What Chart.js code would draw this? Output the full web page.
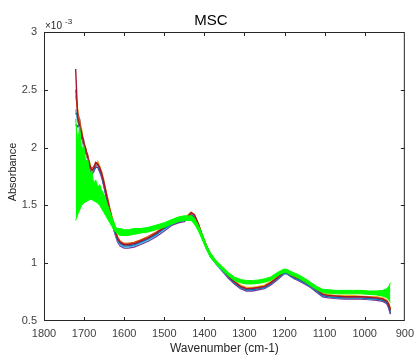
<!DOCTYPE html>
<html>
<head>
<meta charset="utf-8">
<script src="https://cdn.jsdelivr.net/npm/chart.js@4.4.0/dist/chart.umd.min.js"></script>
<style>
html, body { margin: 0; padding: 0; background: #fff; }
#wrap { width: 420px; height: 355px; position: relative; }
</style>
</head>
<body>
<div id="wrap"><canvas id="msc"></canvas></div>
<script>
// wavenumber grid (cm-1), values in units of 1e-3
const wavenumbers = [1721,1716,1711,1706,1701,1696,1691,1686,1681,1676,1671,1666,1661,1656,1651,1646,1641,1636,1631,1626,
  1621,1616,1610,1600,1590,1575,1560,1540,1520,1500,1480,1465,1450,1440,1433,1425,1415,1405,1395,1385,
  1370,1355,1340,1325,1310,1295,1280,1265,1250,1235,1220,1210,1200,1193,1185,1175,1165,1150,1135,1120,
  1105,1090,1070,1050,1030,1010,990,970,955,945,940,936];

const blueSpec = [2.30,2.28,2.15,2.14,2.00,1.99,1.89,1.86,1.78,1.81,1.84,1.87,1.80,1.76,1.68,1.60,1.52,1.44,1.37,1.30,
  1.25,1.20,1.17,1.15,1.15,1.16,1.18,1.21,1.25,1.30,1.34,1.36,1.37,1.40,1.42,1.40,1.33,1.23,1.14,1.07,
  1.00,0.94,0.88,0.83,0.79,0.77,0.77,0.78,0.79,0.82,0.86,0.89,0.915,0.91,0.89,0.87,0.86,0.83,0.80,0.76,
  0.72,0.71,0.705,0.70,0.70,0.70,0.695,0.69,0.68,0.66,0.62,0.57];
const orangeSpec = [2.50,2.30,2.24,2.13,2.06,1.97,1.94,1.84,1.82,1.83,1.87,1.85,1.83,1.78,1.71,1.63,1.55,1.47,1.40,1.33,
  1.27,1.22,1.19,1.17,1.17,1.18,1.20,1.23,1.27,1.31,1.35,1.37,1.38,1.41,1.43,1.42,1.34,1.24,1.15,1.08,
  1.01,0.95,0.89,0.84,0.80,0.78,0.785,0.79,0.80,0.83,0.87,0.90,0.925,0.92,0.90,0.88,0.87,0.84,0.81,0.77,
  0.735,0.72,0.715,0.71,0.71,0.71,0.705,0.70,0.69,0.675,0.65,0.60];
const yellowSpec = [2.45,2.33,2.18,2.16,2.02,2.00,1.90,1.87,1.79,1.84,1.85,1.88,1.84,1.79,1.72,1.64,1.56,1.48,1.41,1.34,
  1.27,1.22,1.19,1.17,1.17,1.18,1.20,1.23,1.27,1.32,1.36,1.38,1.39,1.42,1.44,1.42,1.34,1.24,1.15,1.08,
  1.01,0.95,0.90,0.85,0.81,0.79,0.79,0.80,0.81,0.84,0.88,0.91,0.93,0.925,0.91,0.89,0.88,0.85,0.82,0.78,
  0.74,0.73,0.72,0.72,0.72,0.715,0.71,0.71,0.70,0.68,0.65,0.61];
const purpleSpec = [2.20,2.18,2.22,2.08,2.03,1.95,1.91,1.82,1.77,1.79,1.83,1.83,1.79,1.74,1.67,1.59,1.51,1.43,1.36,1.29,
  1.23,1.18,1.15,1.13,1.13,1.14,1.16,1.19,1.23,1.28,1.33,1.35,1.36,1.39,1.42,1.40,1.32,1.22,1.13,1.06,
  0.99,0.93,0.87,0.82,0.78,0.76,0.76,0.77,0.78,0.81,0.85,0.88,0.91,0.905,0.885,0.865,0.85,0.82,0.79,0.75,
  0.71,0.70,0.695,0.69,0.69,0.69,0.685,0.68,0.67,0.65,0.61,0.56];
const cyanSpec = [2.33,2.22,2.24,2.10,2.07,1.97,1.93,1.86,1.81,1.80,1.86,1.85,1.81,1.76,1.69,1.61,1.53,1.45,1.38,1.31,
  1.24,1.19,1.16,1.14,1.14,1.15,1.17,1.20,1.24,1.29,1.34,1.36,1.37,1.40,1.42,1.40,1.32,1.22,1.13,1.06,
  0.99,0.93,0.88,0.83,0.79,0.77,0.77,0.78,0.79,0.82,0.86,0.89,0.91,0.91,0.89,0.87,0.86,0.83,0.80,0.76,
  0.72,0.71,0.70,0.70,0.70,0.70,0.69,0.69,0.68,0.66,0.63,0.58];
const redSpec = [2.68,2.26,2.19,2.12,2.04,1.99,1.92,1.85,1.80,1.82,1.87,1.86,1.82,1.77,1.70,1.62,1.54,1.46,1.39,1.32,
  1.26,1.21,1.18,1.16,1.16,1.17,1.19,1.22,1.26,1.31,1.35,1.37,1.38,1.41,1.44,1.42,1.34,1.24,1.15,1.08,
  1.00,0.94,0.89,0.84,0.80,0.78,0.78,0.79,0.80,0.83,0.87,0.90,0.925,0.92,0.90,0.88,0.87,0.84,0.81,0.77,
  0.73,0.72,0.715,0.71,0.71,0.71,0.705,0.70,0.69,0.67,0.64,0.59];

// envelope of the green group of spectra
const greenUpper = [2.25,2.05,2.18,1.98,2.02,1.88,1.90,1.78,1.80,1.69,1.72,1.66,1.68,1.63,1.60,1.55,1.50,1.45,1.40,1.36,
  1.31,1.30,1.30,1.29,1.29,1.30,1.30,1.31,1.33,1.35,1.38,1.40,1.41,1.41,1.41,1.39,1.33,1.25,1.16,1.09,
  1.02,0.97,0.92,0.88,0.86,0.85,0.85,0.855,0.865,0.88,0.915,0.935,0.95,0.945,0.93,0.915,0.90,0.87,0.835,0.80,
  0.775,0.77,0.765,0.765,0.765,0.765,0.76,0.76,0.765,0.78,0.80,0.83];
const greenLower = [1.37,1.42,1.46,1.50,1.52,1.53,1.54,1.55,1.55,1.54,1.53,1.52,1.50,1.47,1.44,1.41,1.38,1.35,1.32,1.29,
  1.27,1.25,1.24,1.24,1.24,1.25,1.26,1.27,1.29,1.31,1.34,1.36,1.37,1.37,1.37,1.34,1.28,1.20,1.12,1.05,
  0.99,0.94,0.89,0.85,0.83,0.82,0.82,0.825,0.835,0.85,0.885,0.905,0.92,0.915,0.90,0.885,0.87,0.84,0.805,0.77,
  0.745,0.74,0.735,0.735,0.735,0.735,0.73,0.725,0.715,0.70,0.68,0.66];

const xTicks = [1800,1700,1600,1500,1400,1300,1200,1100,1000,900];
const yTicks = [0.5,1,1.5,2,2.5,3];

const FONT = '"Liberation Sans", Arial, sans-serif';
const pts = vals => vals.map((v, i) => ({ x: wavenumbers[i], y: v }));

const spectrum = (vals, color) => ({
  data: pts(vals), borderColor: color, borderWidth: 1.4, pointRadius: 0, fill: false, order: 1
});

const framePlugin = {
  id: 'frame',
  afterDraw(chart) {
    const { ctx, chartArea: a, scales: { x, y } } = chart;
    ctx.save();
    ctx.strokeStyle = '#262626';
    ctx.lineWidth = 1;
    ctx.strokeRect(a.left + 0.5, a.top + 0.5, a.right - a.left - 1, a.bottom - a.top - 1);
    ctx.beginPath();
    x.ticks.forEach(t => {
      const px = Math.round(x.getPixelForValue(t.value)) + 0.5;
      if (px <= a.left + 1 || px >= a.right - 1) return;
      ctx.moveTo(px, a.bottom); ctx.lineTo(px, a.bottom - 4);
      ctx.moveTo(px, a.top); ctx.lineTo(px, a.top + 4);
    });
    y.ticks.forEach(t => {
      const py = Math.round(y.getPixelForValue(t.value)) + 0.5;
      if (py <= a.top + 1 || py >= a.bottom - 1) return;
      ctx.moveTo(a.left, py); ctx.lineTo(a.left + 4, py);
      ctx.moveTo(a.right, py); ctx.lineTo(a.right - 4, py);
    });
    ctx.stroke();

    // title, exponent and axis titles
    ctx.fillStyle = '#000';
    ctx.textAlign = 'center';
    ctx.textBaseline = 'middle';
    ctx.font = '15px ' + FONT;
    ctx.fillText('MSC', 211, 21);

    ctx.fillStyle = '#262626';
    ctx.textAlign = 'left';
    ctx.textBaseline = 'alphabetic';
    ctx.font = '10px ' + FONT;
    ctx.fillText('\u00d710', 45, 29);
    ctx.font = '8px ' + FONT;
    ctx.fillText('-3', 65, 24);

    ctx.textAlign = 'center';
    ctx.textBaseline = 'middle';
    ctx.font = '12px ' + FONT;
    ctx.fillText('Wavenumber (cm-1)', (a.left + a.right) / 2, 349);
    ctx.save();
    ctx.translate(13, 172);
    ctx.rotate(-Math.PI / 2);
    ctx.font = '11px ' + FONT;
    ctx.fillText('Absorbance', 0, 0);
    ctx.restore();
    ctx.restore();
  }
};

new Chart(document.getElementById('msc'), {
  type: 'line',
  data: {
    datasets: [
      { data: pts(greenUpper), borderColor: '#00ff00', backgroundColor: '#00ff00', borderWidth: 1, pointRadius: 0, fill: '+1', order: 0 },
      { data: pts(greenLower), borderColor: '#00ff00', borderWidth: 1, pointRadius: 0, fill: false, order: 0 },
      spectrum(redSpec, '#A2142F'),
      spectrum(orangeSpec, '#D95319'),
      spectrum(yellowSpec, '#EDB120'),
      spectrum(blueSpec, '#0072BD'),
      spectrum(cyanSpec, '#4DBEEE'),
      spectrum(purpleSpec, '#7E2F8E')
    ]
  },
  options: {
    responsive: true,
    maintainAspectRatio: false,
    animation: false,
    events: [],
    layout: { padding: { top: 32, right: 10, bottom: 0, left: 0 } },
    plugins: { legend: { display: false }, tooltip: { enabled: false } },
    scales: {
      x: {
        type: 'linear', reverse: true, min: 900, max: 1800,
        grid: { display: false, drawTicks: false },
        border: { display: false },
        ticks: { font: { family: FONT, size: 11 }, color: '#404040', padding: 6, maxRotation: 0, autoSkip: false, callback: v => String(v) },
        afterBuildTicks: s => { s.ticks = xTicks.map(v => ({ value: v })); },
        afterFit: s => { s.height = 34; }
      },
      y: {
        type: 'linear', min: 0.5, max: 3,
        grid: { display: false, drawTicks: false },
        border: { display: false },
        ticks: { font: { family: FONT, size: 11 }, color: '#404040', padding: 7, autoSkip: false, callback: v => String(v) },
        afterBuildTicks: s => { s.ticks = yTicks.map(v => ({ value: v })); },
        afterFit: s => { s.width = 44; }
      }
    }
  },
  plugins: [framePlugin]
});
</script>
</body>
</html>
